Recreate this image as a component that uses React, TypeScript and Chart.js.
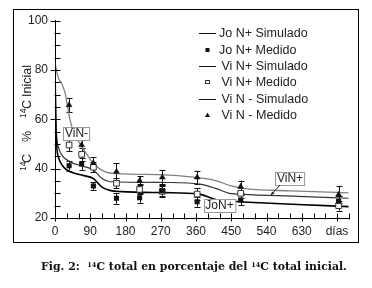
import React, { useEffect, useRef } from 'react';
import { Chart, registerables } from 'chart.js';

Chart.register(...registerables);

// ---- Data (days, % of initial 14C) ----
const simViNmDays = [0, 8, 17, 26, 38, 50, 68, 98, 130, 160, 290, 370, 410, 450, 490, 600, 750];
const simViNmVals = [83, 77, 74.5, 70.5, 60, 54, 49, 42.2, 38.6, 38, 37.4, 36.3, 35.2, 33, 31.8, 31, 30.2];

const simViNpDays = [0, 2, 5, 9, 20, 38, 70, 98, 120, 140, 290, 370, 410, 445, 480, 620, 750];
const simViNpVals = [83, 62, 52, 48.5, 45, 42.8, 41, 39.5, 36, 34.7, 34.4, 33.7, 32, 30, 29.6, 28.8, 28];

const simJoNpDays = [0, 2, 5, 9, 20, 38, 70, 98, 120, 140, 170, 280, 365, 410, 450, 480, 620, 750];
const simJoNpVals = [83, 58, 48, 44.5, 41, 38.8, 37.3, 36, 32.5, 31.2, 30.7, 30.3, 29.8, 27.5, 26.8, 26.5, 25.5, 24.6];

const measuredDays = [36, 68, 98, 157, 216, 274, 363, 474, 724];
const joNpMeasured = [41.2, 41.9, 33, 28, 28.2, 31, 26.6, 27.3, 26.8];
const joNpErr = [2, 2.6, 1.6, 2.2, 2, 2, 2, 2, 2];
const viNpMeasured = [49.6, 45.8, 40.6, 34.1, 31.6, 30.8, 29.7, 30, 25];
const viNpErr = [2.4, 2.5, 2, 2, 2, 2.4, 2.5, 2, 2];
const viNmMeasured = [65.8, 49.6, 42.3, 38.8, 35.1, 36.5, 36.5, 32.7, 29.5];
const viNmErr = [2.9, 3, 2.5, 3.4, 1.9, 2.9, 2.7, 2.5, 3.6];

const xTickLabels = ['0', '90', '180', '270', '360', '450', '540', '630', 'días'];
const legendLabels = ['Jo N+ Simulado', 'Jo N+ Medido', 'Vi N+ Simulado', 'Vi N+ Medido', 'Vi N - Simulado', 'Vi N - Medido'];
const annotationLabels = ['ViN-', 'ViN+', 'JoN+'];
// y-axis title pieces: [text, superscript?]
const yTitleParts: [string, boolean][] = [['14', true], ['C', false], ['%', false], ['14', true], ['C', false], ['Inicial', false]];

const FONT = '"Liberation Sans", Arial, Helvetica, sans-serif';

const toPts = (xs: number[], ys: number[]) => xs.map((x, i) => ({ x, y: ys[i] }));

const drawPlugin = {
  id: 'customDraw',
  beforeDatasetsDraw(chart: any) {
    const { ctx, scales } = chart;
    const x = scales.x, y = scales.y;
    ctx.save();
    ctx.strokeStyle = '#111';
    ctx.lineWidth = 1;
    chart.data.datasets.forEach((ds: any) => {
      if (!ds.errors) return;
      ds.data.forEach((p: any, i: number) => {
        const e = ds.errors[i];
        const px = Math.round(x.getPixelForValue(p.x)) + 0.5;
        const t = y.getPixelForValue(p.y + e);
        const b = y.getPixelForValue(p.y - e);
        ctx.beginPath();
        ctx.moveTo(px, t); ctx.lineTo(px, b);
        ctx.moveTo(px - 3, Math.round(t) + 0.5); ctx.lineTo(px + 3, Math.round(t) + 0.5);
        ctx.moveTo(px - 3, Math.round(b) + 0.5); ctx.lineTo(px + 3, Math.round(b) + 0.5);
        ctx.stroke();
      });
    });
    ctx.restore();
  },
  afterDatasetsDraw(chart: any) {
    const { ctx, scales } = chart;
    const x = scales.x, y = scales.y;
    ctx.save();
    // axis ticks
    ctx.strokeStyle = '#000';
    ctx.lineWidth = 1;
    const ax = Math.round(x.getPixelForValue(0)) + 0.5;
    const ay = Math.round(y.getPixelForValue(20)) + 0.5;
    ctx.beginPath();
    for (let v = 20; v <= 100; v += 5) {
      const py = Math.round(y.getPixelForValue(v)) + 0.5;
      const major = v % 20 === 0;
      ctx.moveTo(major ? ax - 5 : ax - 1, py);
      ctx.lineTo(ax + 5, py);
    }
    for (let d = 0; d <= 750; d += 30) {
      const px = Math.round(x.getPixelForValue(d)) + 0.5;
      const major = d % 90 === 0;
      ctx.moveTo(px, ay - 5);
      ctx.lineTo(px, major ? ay + 3 : ay + 1);
    }
    ctx.stroke();

    // annotation boxes
    const ann = [
      { t: annotationLabels[0], d: 55, v: 54.3 },
      { t: annotationLabels[1], d: 600, v: 36 },
      { t: annotationLabels[2], d: 420, v: 25.1 },
    ];
    ctx.font = `12px ${FONT}`;
    ctx.textBaseline = 'middle';
    ctx.textAlign = 'center';
    ann.forEach((a) => {
      const cx = x.getPixelForValue(a.d);
      const cy = y.getPixelForValue(a.v);
      const w = ctx.measureText(a.t).width + 3;
      const h = 13;
      const lx = Math.round(cx - w / 2) + 0.5;
      const ty = Math.round(cy - h / 2) + 0.5;
      ctx.fillStyle = '#fff';
      ctx.fillRect(lx, ty, w, h);
      ctx.strokeStyle = '#999';
      ctx.strokeRect(lx, ty, w, h);
      ctx.fillStyle = '#222';
      ctx.fillText(a.t, cx, cy + 0.5);
    });
    // leader arrow for ViN+
    {
      const sx = x.getPixelForValue(610) - 14, sy = y.getPixelForValue(36) + 6.5;
      const tx = x.getPixelForValue(551), ty = y.getPixelForValue(29.2);
      ctx.strokeStyle = '#222';
      ctx.beginPath();
      ctx.moveTo(sx, sy); ctx.lineTo(tx, ty);
      ctx.stroke();
      const ang = Math.atan2(ty - sy, tx - sx);
      ctx.fillStyle = '#222';
      ctx.beginPath();
      ctx.moveTo(tx, ty);
      ctx.lineTo(tx - 4 * Math.cos(ang - 0.4), ty - 4 * Math.sin(ang - 0.4));
      ctx.lineTo(tx - 4 * Math.cos(ang + 0.4), ty - 4 * Math.sin(ang + 0.4));
      ctx.closePath();
      ctx.fill();
    }
    ctx.restore();
  },
  afterDraw(chart: any) {
    const { ctx } = chart;
    ctx.save();
    // legend
    const rows = [33, 50, 66, 82, 99, 115];
    const textX = [219, 219, 221.5, 221.5, 221.5, 221.5];
    ctx.font = `12.5px ${FONT}`;
    ctx.textBaseline = 'middle';
    ctx.textAlign = 'left';
    ctx.fillStyle = '#222';
    legendLabels.forEach((label, i) => {
      const ry = rows[i];
      ctx.fillText(label, textX[i], ry + 0.5);
      if (i % 2 === 0) {
        ctx.strokeStyle = '#111';
        ctx.lineWidth = 1;
        ctx.beginPath();
        ctx.moveTo(199, ry + 0.5);
        ctx.lineTo(216, ry + 0.5);
        ctx.stroke();
      } else if (i === 1) {
        ctx.fillStyle = '#111';
        ctx.fillRect(205.5, ry - 2, 4, 4);
        ctx.fillStyle = '#222';
      } else if (i === 3) {
        ctx.strokeStyle = '#333';
        ctx.lineWidth = 1;
        ctx.strokeRect(205.5, ry - 1.5, 4, 3);
      } else if (i === 5) {
        ctx.fillStyle = '#111';
        ctx.beginPath();
        ctx.moveTo(207.5, ry - 2.5);
        ctx.lineTo(210, ry + 2);
        ctx.lineTo(205, ry + 2);
        ctx.closePath();
        ctx.fill();
        ctx.fillStyle = '#222';
      }
    });

    // y-axis title, rotated, drawn piecewise (superscripts)
    const starts = [171, 163, 142, 118, 109, 97];
    ctx.translate(31, 0);
    ctx.rotate(-Math.PI / 2);
    ctx.textBaseline = 'alphabetic';
    ctx.textAlign = 'left';
    ctx.fillStyle = '#222';
    yTitleParts.forEach(([t, sup], i) => {
      ctx.font = sup ? `8.5px ${FONT}` : `12.5px ${FONT}`;
      ctx.fillText(t, -starts[i], sup ? -5 : 0);
    });
    ctx.restore();
  },
};

export default function App() {
  const ref = useRef<HTMLCanvasElement | null>(null);

  useEffect(() => {
    if (!ref.current) return;
    const chart = new Chart(ref.current, {
      type: 'scatter',
      data: {
        datasets: [
          {
            label: 'Jo N+ Medido',
            data: toPts(measuredDays, joNpMeasured),
            errors: joNpErr,
            pointStyle: 'rect',
            pointRadius: 3.6,
            pointBackgroundColor: '#111',
            pointBorderColor: '#111',
            pointBorderWidth: 0,
            showLine: false,
          } as any,
          {
            label: 'Vi N - Medido',
            data: toPts(measuredDays, viNmMeasured),
            errors: viNmErr,
            pointStyle: 'triangle',
            pointRadius: 3.4,
            pointBackgroundColor: '#111',
            pointBorderColor: '#111',
            pointBorderWidth: 0.5,
            showLine: false,
          } as any,
          {
            label: 'Vi N+ Medido',
            data: toPts(measuredDays, viNpMeasured),
            errors: viNpErr,
            pointStyle: 'rect',
            pointRadius: 4,
            pointBackgroundColor: '#fff',
            pointBorderColor: '#333',
            pointBorderWidth: 1,
            showLine: false,
          } as any,
          {
            label: 'Jo N+ Simulado',
            data: toPts(simJoNpDays, simJoNpVals),
            showLine: true,
            borderColor: '#000',
            borderWidth: 1.6,
            pointRadius: 0,
            cubicInterpolationMode: 'monotone',
          } as any,
          {
            label: 'Vi N+ Simulado',
            data: toPts(simViNpDays, simViNpVals),
            showLine: true,
            borderColor: '#333',
            borderWidth: 1.2,
            pointRadius: 0,
            cubicInterpolationMode: 'monotone',
          } as any,
          {
            label: 'Vi N - Simulado',
            data: toPts(simViNmDays, simViNmVals),
            showLine: true,
            borderColor: '#808080',
            borderWidth: 1.3,
            pointRadius: 0,
            cubicInterpolationMode: 'monotone',
          } as any,
        ],
      },
      options: {
        animation: false,
        responsive: false,
        maintainAspectRatio: false,
        devicePixelRatio: 1,
        layout: { padding: { left: 0, top: 20.7, right: 23.25, bottom: 40 } },
        plugins: { legend: { display: false }, tooltip: { enabled: false } },
        scales: {
          x: {
            type: 'linear',
            min: 0,
            max: 750,
            afterFit: (s: any) => { s.height = 30; },
            grid: { display: false, drawTicks: false },
            border: { display: true, color: '#000', width: 1 },
            ticks: {
              stepSize: 90,
              includeBounds: false,
              autoSkip: false,
              maxRotation: 0,
              padding: 6,
              color: '#222',
              font: { family: FONT, size: 12 },
              callback: (v: any) => xTickLabels[Math.round(Number(v) / 90)] ?? '',
            },
          },
          y: {
            min: 20,
            max: 100,
            afterFit: (s: any) => { s.width = 55; },
            grid: { display: false, drawTicks: false },
            border: { display: true, color: '#000', width: 1 },
            ticks: {
              stepSize: 20,
              padding: 7,
              color: '#222',
              font: { family: FONT, size: 12 },
            },
          },
        },
      } as any,
      plugins: [drawPlugin],
    });
    return () => chart.destroy();
  }, []);

  const supStyle: React.CSSProperties = { fontSize: 6.5, verticalAlign: 'top', position: 'relative', top: -2 };

  return (
    <div style={{ position: 'fixed', left: 0, top: 0, width: 372, height: 288, background: '#fff', overflow: 'hidden' }}>
      <div style={{ position: 'absolute', left: 13, top: 9, width: 346, height: 234, border: '1px solid #000', boxSizing: 'border-box' }} />
      <canvas ref={ref} width={372} height={288} style={{ position: 'absolute', left: 0, top: 0, width: 372, height: 288 }} />
      <div
        style={{
          position: 'absolute',
          left: 0,
          width: 388,
          top: 259,
          textAlign: 'center',
          whiteSpace: 'nowrap',
          fontFamily: '"DejaVu Serif", serif',
          fontWeight: 'bold',
          fontSize: 10.9,
          color: '#111',
          lineHeight: '16px',
        }}
      >
        Fig. 2:&nbsp;&nbsp;<sup style={supStyle}>14</sup>C total en porcentaje del <sup style={supStyle}>14</sup>C total inicial.
      </div>
    </div>
  );
}
